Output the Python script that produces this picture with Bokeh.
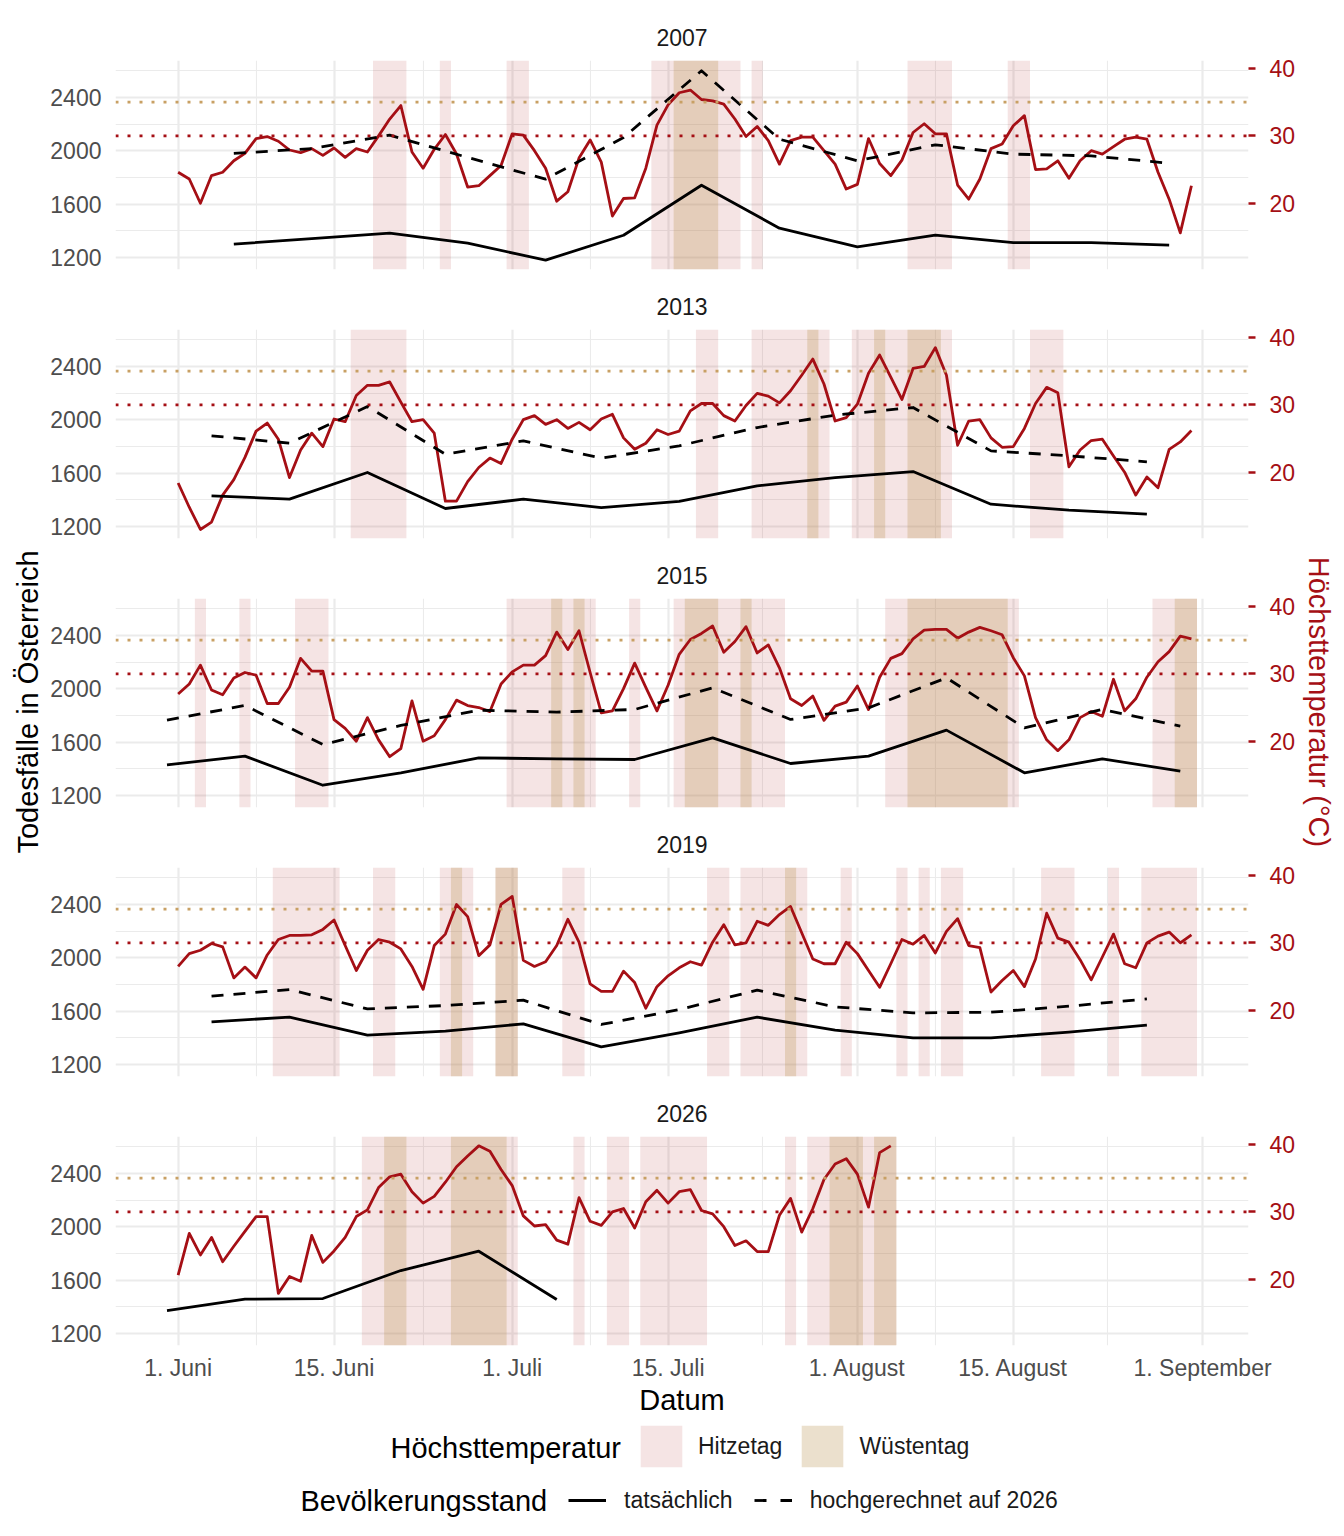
import math
import pandas as pd
from bokeh.plotting import figure
from bokeh.models import (Range1d, LinearAxis, FixedTicker, Span, Legend,
                          LegendItem, Label)
from bokeh.layouts import column, row
from bokeh.embed import file_html
from bokeh.resources import INLINE

# ---------------- data ----------------
years = [2007, 2013, 2015, 2019, 2026]

# daily maximum temperature (degC), starting 1 June of each year
temp_2007 = [24.6, 23.6, 20.0, 24.1, 24.6, 26.3, 27.4, 29.6, 29.9, 29.2, 27.9, 27.5, 28.1, 27.1, 28.2,
             26.8, 28.1, 27.6, 30.0, 32.5, 34.5, 27.6, 25.2, 28.0, 30.2, 27.3, 22.4, 22.6, 24.1, 25.6,
             30.3, 30.1, 27.8, 25.2, 20.3, 21.7, 26.7, 29.4, 26.1, 18.1, 20.7, 20.8, 25.2, 31.6, 34.6,
             36.4, 36.8, 35.4, 35.2, 34.7, 32.5, 29.9, 31.4, 29.3, 25.8, 29.3, 29.8, 29.8, 27.8, 25.8,
             22.1, 22.8, 29.6, 25.9, 24.1, 26.4, 30.5, 31.8, 30.3, 30.3, 22.7, 20.6, 23.6, 28.1, 28.8,
             31.5, 33.0, 25.0, 25.1, 26.3, 23.7, 26.3, 27.8, 27.3, 28.4, 29.5, 29.8, 29.5, 24.6, 20.6,
             15.6, 22.6]
temp_2013 = [18.4, 14.8, 11.5, 12.6, 16.6, 18.9, 22.2, 26.1, 27.3, 24.9, 19.2, 23.3, 25.8, 23.8, 27.9,
             27.5, 31.4, 32.9, 32.9, 33.4, 30.4, 27.5, 27.8, 25.8, 15.7, 15.7, 18.6, 20.7, 22.1, 21.3,
             24.9, 27.8, 28.4, 27.1, 27.8, 26.5, 27.4, 26.3, 27.9, 28.6, 25.1, 23.4, 24.3, 26.3, 25.6,
             26.1, 29.1, 30.2, 30.2, 28.4, 27.6, 29.9, 31.7, 31.3, 30.3, 32.1, 34.4, 36.8, 33.1, 27.6,
             28.1, 30.1, 34.7, 37.4, 34.1, 30.8, 35.4, 35.7, 38.5, 34.4, 24.0, 27.6, 27.8, 25.1, 23.7,
             23.8, 26.5, 30.2, 32.6, 31.8, 20.8, 23.3, 24.7, 24.9, 22.4, 20.0, 16.6, 19.3, 17.7, 23.4,
             24.5, 26.2]
temp_2015 = [27.0, 28.5, 31.3, 27.6, 26.9, 29.4, 30.2, 29.8, 25.6, 25.6, 28.0, 32.3, 30.4, 30.4, 23.2,
             21.9, 20.0, 23.5, 20.2, 17.7, 18.9, 26.0, 20.0, 20.8, 23.2, 26.1, 25.3, 25.0, 24.4, 28.5,
             30.3, 31.3, 31.3, 32.7, 36.2, 33.6, 36.4, 30.2, 24.2, 24.5, 27.8, 31.6, 28.0, 24.5, 28.3,
             32.9, 35.1, 36.0, 37.1, 33.2, 34.8, 37.0, 33.1, 34.3, 30.9, 26.3, 25.3, 26.7, 23.1, 25.2,
             25.8, 28.2, 24.7, 29.5, 32.3, 33.0, 35.2, 36.5, 36.6, 36.6, 35.3, 36.2, 36.9, 36.4, 35.8,
             32.4, 29.7, 23.5, 20.2, 18.6, 20.2, 23.5, 24.4, 23.7, 29.2, 24.5, 26.3, 29.5, 31.8, 33.3,
             35.6, 35.2]
temp_2019 = [26.5, 28.4, 28.9, 29.9, 29.4, 24.8, 26.4, 24.8, 28.2, 30.5, 31.1, 31.1, 31.2, 32.0, 33.4,
             29.6, 25.9, 28.9, 30.5, 30.1, 29.1, 26.5, 23.1, 29.6, 31.3, 35.7, 33.9, 28.1, 29.7, 35.7,
             36.9, 27.4, 26.5, 27.2, 29.6, 33.5, 30.1, 23.9, 22.8, 22.8, 25.8, 24.1, 20.3, 23.5, 25.1,
             26.3, 27.2, 26.7, 30.1, 32.7, 29.7, 30.0, 33.2, 32.6, 34.2, 35.4, 31.5, 27.6, 26.9, 26.9,
             30.1, 28.4, 25.9, 23.4, 26.9, 30.5, 29.8, 31.1, 28.5, 31.7, 33.6, 29.6, 29.3, 22.7, 24.4,
             25.9, 23.5, 27.6, 34.4, 30.7, 30.1, 27.5, 24.5, 27.9, 31.3, 26.9, 26.3, 30.0, 31.0, 31.6,
             30.0, 31.2]
temp_2026 = [20.6, 26.8, 23.6, 26.2, 22.6, 24.9, 27.1, 29.3, 29.3, 17.9, 20.4, 19.7, 26.5, 22.5, 24.2,
             26.2, 29.3, 30.3, 33.6, 35.2, 35.6, 33.0, 31.3, 32.3, 34.4, 36.7, 38.3, 39.8, 39.0, 36.3,
             33.9, 29.4, 27.9, 28.1, 25.8, 25.2, 32.1, 28.6, 28.0, 30.0, 30.5, 27.6, 31.5, 33.2, 31.3,
             33.0, 33.3, 30.2, 29.7, 27.8, 25.0, 25.7, 24.1, 24.1, 29.5, 32.0, 27.0, 30.5, 34.8, 37.1,
             37.9, 35.6, 30.7, 38.8, 39.8]

# weekly deaths in Austria
week_2007 = ["06-06", "06-13", "06-20", "06-27", "07-04", "07-11", "07-18", "07-25", "08-01", "08-08",
             "08-15", "08-22", "08-29"]
actual_2007 = [1300, 1342, 1382, 1307, 1180, 1367, 1742, 1420, 1280, 1367, 1312, 1312, 1292]
proj_2007 = [1980, 2017, 2117, 1950, 1787, 2100, 2600, 2087, 1925, 2045, 1975, 1962, 1907]

week_2013 = ["06-04", "06-11", "06-18", "06-25", "07-02", "07-09", "07-16", "07-23", "07-30", "08-06",
             "08-13", "08-20", "08-27"]
actual_2013 = [1430, 1405, 1605, 1335, 1405, 1342, 1388, 1505, 1567, 1612, 1367, 1322, 1292]
proj_2013 = [1880, 1825, 2100, 1742, 1842, 1712, 1805, 1942, 2035, 2092, 1767, 1730, 1685]

week_2015 = ["05-31", "06-07", "06-14", "06-21", "06-28", "07-05", "07-12", "07-19", "07-26", "08-02",
             "08-09", "08-16", "08-23", "08-30"]
actual_2015 = [1430, 1495, 1277, 1370, 1482, 1475, 1470, 1632, 1440, 1495, 1690, 1370, 1475, 1382]
proj_2015 = [1765, 1875, 1582, 1725, 1840, 1825, 1845, 2007, 1770, 1857, 2082, 1707, 1845, 1720]

week_2019 = ["06-04", "06-11", "06-18", "06-25", "07-02", "07-09", "07-16", "07-23", "07-30", "08-06",
             "08-13", "08-20", "08-27"]
actual_2019 = [1520, 1555, 1420, 1450, 1505, 1332, 1437, 1555, 1457, 1400, 1400, 1442, 1495]
proj_2019 = [1712, 1762, 1617, 1642, 1682, 1500, 1612, 1757, 1632, 1587, 1592, 1637, 1692]

week_2026 = ["05-31", "06-07", "06-14", "06-21", "06-28", "07-05"]
actual_2026 = [1372, 1457, 1462, 1672, 1817, 1455]
proj_2026 = []

# hot days (Hitzetag >= 30 degC) and desert days (Wuestentag >= 35 degC), as (first, last) day
hitze_2007 = [("06-19", "06-21"), ("06-25", "06-25"), ("07-01", "07-02"), ("07-14", "07-21"),
              ("07-23", "07-23"), ("08-06", "08-09"), ("08-15", "08-16")]
wueste_2007 = [("07-16", "07-19")]
hitze_2013 = [("06-17", "06-21"), ("07-18", "07-19"), ("07-23", "07-29"), ("08-01", "08-09"),
              ("08-17", "08-19")]
wueste_2013 = [("07-28", "07-28"), ("08-03", "08-03"), ("08-06", "08-08")]
hitze_2015 = [("06-03", "06-03"), ("06-07", "06-07"), ("06-12", "06-14"), ("07-01", "07-08"),
              ("07-12", "07-12"), ("07-16", "07-25"), ("08-04", "08-15"), ("08-28", "08-31")]
wueste_2015 = [("07-05", "07-05"), ("07-07", "07-07"), ("07-17", "07-19"), ("07-22", "07-22"),
               ("08-06", "08-14"), ("08-30", "08-31")]
hitze_2019 = [("06-10", "06-15"), ("06-19", "06-20"), ("06-25", "06-27"), ("06-30", "07-01"),
              ("07-06", "07-07"), ("07-19", "07-20"), ("07-22", "07-27"), ("07-31", "07-31"),
              ("08-05", "08-05"), ("08-07", "08-07"), ("08-09", "08-10"), ("08-18", "08-20"),
              ("08-24", "08-24"), ("08-27", "08-31")]
wueste_2019 = [("06-26", "06-26"), ("06-30", "07-01"), ("07-26", "07-26")]
hitze_2026 = [("06-18", "07-01"), ("07-07", "07-07"), ("07-10", "07-11"), ("07-13", "07-18"),
              ("07-26", "07-26"), ("07-28", "08-04")]
wueste_2026 = [("06-20", "06-21"), ("06-26", "06-30"), ("07-30", "08-01"), ("08-03", "08-04")]

# axes
x_tick_dates = ["06-01", "06-15", "07-01", "07-15", "08-01", "08-15", "09-01"]
x_tick_labels = ["1. Juni", "15. Juni", "1. Juli", "15. Juli", "1. August", "15. August", "1. September"]
death_ticks = [1200, 1600, 2000, 2400]
death_minor = [1400, 1800, 2200, 2600]
temp_ticks = [20, 30, 40]
hitze_threshold = 30
wueste_threshold = 35

temps = {2007: temp_2007, 2013: temp_2013, 2015: temp_2015, 2019: temp_2019, 2026: temp_2026}
weeks = {2007: week_2007, 2013: week_2013, 2015: week_2015, 2019: week_2019, 2026: week_2026}
actual = {2007: actual_2007, 2013: actual_2013, 2015: actual_2015, 2019: actual_2019, 2026: actual_2026}
proj = {2007: proj_2007, 2013: proj_2013, 2015: proj_2015, 2019: proj_2019, 2026: proj_2026}
hitze = {2007: hitze_2007, 2013: hitze_2013, 2015: hitze_2015, 2019: hitze_2019, 2026: hitze_2026}
wueste = {2007: wueste_2007, 2013: wueste_2013, 2015: wueste_2015, 2019: wueste_2019, 2026: wueste_2026}

# ---------------- style ----------------
RED = "#A50F15"
TAN_LINE = "#C8A064"
TAN_FILL = "#BE995A"
GRID = "#EBEBEB"
FONT = "Liberation Sans"
T_A, T_B = 597.0, 50.5          # temperature -> death-axis mapping
Y0, Y1 = 1110, 2677
X0, X1 = -5.625, 96.125
LWID = 2.8
DASH = "12 10"

LEFT_W, RIGHT_W = 45, 44
BL, BR = 70, 52
FW, FH = 1133, 209


def day(year, mmdd):
    return (pd.Timestamp(f"{year}-{mmdd}") - pd.Timestamp(f"{year}-06-01")).days


tick_days = [day(2026, d) for d in x_tick_dates]
minor_days = [(a + b) / 2 for a, b in zip(tick_days[:-1], tick_days[1:])]

figs = []
for i, yr in enumerate(years):
    first = i == 0
    last = i == len(years) - 1
    p = figure(frame_width=FW, frame_height=FH,
               x_range=Range1d(X0, X1), y_range=Range1d(Y0, Y1),
               min_border_left=BL, min_border_right=BR, min_border_top=60 if first else 52,
               min_border_bottom=72 if last else 8,
               toolbar_location=None, output_backend="svg", title=str(yr))
    p.outline_line_color = None
    p.background_fill_color = "white"
    p.border_fill_color = "white"
    p.title.align = "center"
    p.title.text_font = FONT
    p.title.text_font_size = "23px"
    p.title.text_font_style = "normal"
    p.title.text_color = "#1A1A1A"
    p.title.standoff = 30

    p.extra_y_ranges = {"temp": Range1d((Y0 - T_A) / T_B, (Y1 - T_A) / T_B)}

    # grids
    p.xgrid.ticker = FixedTicker(ticks=tick_days, minor_ticks=minor_days)
    p.ygrid.ticker = FixedTicker(ticks=death_ticks, minor_ticks=death_minor)
    for g in (p.xgrid[0], p.ygrid[0]):
        g.grid_line_color = GRID
        g.grid_line_width = 2.2
        g.minor_grid_line_color = GRID
        g.minor_grid_line_width = 1.1

    # left axis
    ya = p.yaxis[0]
    ya.ticker = FixedTicker(ticks=death_ticks)
    ya.axis_line_color = None
    ya.major_tick_line_color = None
    ya.minor_tick_line_color = None
    ya.major_tick_out = 0
    ya.major_tick_in = 0
    ya.major_label_standoff = 14
    ya.major_label_text_font = FONT
    ya.major_label_text_font_size = "23px"
    ya.major_label_text_color = "#4D4D4D"

    # right axis (temperature)
    ra = LinearAxis(y_range_name="temp", ticker=FixedTicker(ticks=temp_ticks))
    ra.axis_line_color = None
    ra.major_tick_line_color = RED
    ra.major_tick_line_width = 2.4
    ra.major_tick_out = 7
    ra.major_tick_in = 0
    ra.minor_tick_line_color = None
    ra.major_label_standoff = 14
    ra.major_label_text_font = FONT
    ra.major_label_text_font_size = "23px"
    ra.major_label_text_color = RED
    p.add_layout(ra, "right")

    # bottom axis
    xa = p.xaxis[0]
    if last:
        xa.ticker = FixedTicker(ticks=tick_days)
        xa.major_label_overrides = {d: lab for d, lab in zip(tick_days, x_tick_labels)}
        xa.axis_line_color = None
        xa.major_tick_line_color = None
        xa.minor_tick_line_color = None
        xa.major_tick_out = 0
        xa.major_tick_in = 0
        xa.major_label_standoff = 9
        xa.major_label_text_font = FONT
        xa.major_label_text_font_size = "23px"
        xa.major_label_text_color = "#4D4D4D"
        xa.axis_label = "Datum"
        xa.axis_label_text_font = FONT
        xa.axis_label_text_font_size = "29px"
        xa.axis_label_text_font_style = "normal"
        xa.axis_label_text_color = "black"
        xa.axis_label_standoff = 0
    else:
        xa.visible = False

    # shaded hot / desert days
    h = hitze[yr]
    p.quad(left=[day(yr, a) - 0.5 for a, b in h], right=[day(yr, b) + 0.5 for a, b in h],
           bottom=Y0, top=Y1, fill_color=RED, fill_alpha=0.115, line_color=None)
    w = wueste[yr]
    p.quad(left=[day(yr, a) - 0.5 for a, b in w], right=[day(yr, b) + 0.5 for a, b in w],
           bottom=Y0, top=Y1, fill_color=TAN_FILL, fill_alpha=0.3, line_color=None)

    # threshold lines
    p.add_layout(Span(location=wueste_threshold, dimension="width", y_range_name="temp",
                      line_color=TAN_LINE, line_width=2.7, line_dash="3 9"))
    p.add_layout(Span(location=hitze_threshold, dimension="width", y_range_name="temp",
                      line_color=RED, line_width=2.7, line_dash="3 9"))

    # temperature
    t = temps[yr]
    tdays = [(d - pd.Timestamp(f"{yr}-06-01")).days
             for d in pd.date_range(f"{yr}-06-01", periods=len(t))]
    p.line(tdays, t, y_range_name="temp", line_color=RED, line_width=LWID, line_join="round")

    # deaths
    wd = [day(yr, d) for d in weeks[yr]]
    p.line(wd, actual[yr], line_color="black", line_width=LWID, line_join="round")
    if proj[yr]:
        p.line(wd, proj[yr], line_color="black", line_width=LWID, line_join="round",
               line_dash=DASH)
    figs.append(p)

panels_h = 60 + FH + 8 + 3 * (52 + FH + 8) + 52 + FH + 72

# ---------------- legend panel ----------------
LH = 111
lf = figure(frame_width=FW, frame_height=LH, x_range=Range1d(LEFT_W + BL, LEFT_W + BL + FW),
            y_range=Range1d(0, LH), min_border_left=BL, min_border_right=BR,
            min_border_top=0, min_border_bottom=0, toolbar_location=None, output_backend="svg",
            x_axis_location=None, y_axis_location=None)
lf.xgrid.visible = False
lf.ygrid.visible = False
lf.outline_line_color = None

nan = [float("nan")]
r_h = lf.quad(left=nan, right=nan, bottom=nan, top=nan, fill_color=RED, fill_alpha=0.115,
              line_color=None)
r_w = lf.quad(left=nan, right=nan, bottom=nan, top=nan, fill_color=TAN_FILL, fill_alpha=0.3,
              line_color=None)
r_a = lf.line(x=nan, y=nan, line_color="black", line_width=LWID)
r_p = lf.line(x=nan, y=nan, line_color="black", line_width=LWID, line_dash="12 14")

common = dict(orientation="horizontal", padding=0, margin=0, border_line_color=None,
              background_fill_alpha=0, label_text_font=FONT, label_text_font_size="23px",
              label_text_color="#1A1A1A")
x_frame = LEFT_W + BL
leg1 = Legend(items=[LegendItem(label="Hitzetag", renderers=[r_h]),
                     LegendItem(label="Wüstentag", renderers=[r_w])],
              location=(635 - x_frame, 57), glyph_width=52, glyph_height=52, label_standoff=11,
              spacing=14, **common)
leg2 = Legend(items=[LegendItem(label="tatsächlich", renderers=[r_a]),
                     LegendItem(label="hochgerechnet auf 2026", renderers=[r_p])],
              location=(568 - x_frame, 8), glyph_width=38, glyph_height=42, label_standoff=18,
              spacing=21, **common)
lf.add_layout(leg1)
lf.add_layout(leg2)
lf.add_layout(Label(x=390, y=82, text="Höchsttemperatur", text_font=FONT, text_font_size="29px",
                    text_baseline="middle", text_align="left", text_color="black"))
lf.add_layout(Label(x=300, y=29, text="Bevölkerungsstand", text_font=FONT, text_font_size="29px",
                    text_baseline="middle", text_align="left", text_color="black"))

# ---------------- shared axis titles ----------------
label_y = panels_h - 701.5


def side_fig(w):
    f = figure(width=w, height=panels_h, x_range=Range1d(0, w), y_range=Range1d(0, panels_h),
               min_border=0, toolbar_location=None, output_backend="svg",
               x_axis_location=None, y_axis_location=None)
    f.xgrid.visible = False
    f.ygrid.visible = False
    f.outline_line_color = None
    return f


left_fig = side_fig(LEFT_W)
left_fig.add_layout(Label(x=27, y=label_y, text="Todesfälle in Österreich", angle=math.pi / 2,
                          text_font=FONT, text_font_size="29px", text_align="center",
                          text_baseline="middle", text_color="black"))
right_fig = side_fig(RIGHT_W)
right_fig.add_layout(Label(x=18, y=label_y, text="Höchsttemperatur (°C)", angle=-math.pi / 2,
                           text_font=FONT, text_font_size="29px", text_align="center",
                           text_baseline="middle", text_color=RED))

layout = row(left_fig, column(*figs, lf), right_fig)
open("out.html", "w").write(file_html(layout, INLINE))
